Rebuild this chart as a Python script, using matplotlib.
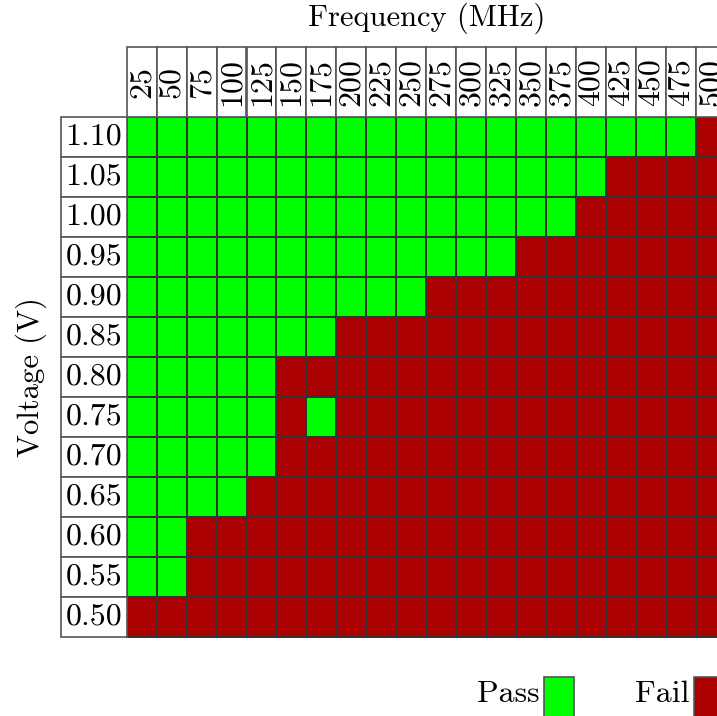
import numpy as np
import matplotlib.pyplot as plt
from matplotlib.colors import ListedColormap
from matplotlib.patches import Rectangle

plt.rcParams['font.family'] = 'cmr10'
plt.rcParams['mathtext.fontset'] = 'cm'

# Shmoo data: frequency sweep (MHz) against supply voltage (V)
freqs = [25, 50, 75, 100, 125, 150, 175, 200, 225, 250,
         275, 300, 325, 350, 375, 400, 425, 450, 475, 500]
volts = ['1.10', '1.05', '1.00', '0.95', '0.90', '0.85', '0.80',
         '0.75', '0.70', '0.65', '0.60', '0.55', '0.50']
# highest passing frequency at each voltage (0 = nothing passes)
max_pass = [475, 400, 375, 325, 250, 175, 125, 175, 125, 100, 50, 50, 0]
# failing points below the max passing frequency
holes = [('0.75', 150)]

status = np.array([[1 if f <= m else 0 for f in freqs] for m in max_pass])
for v, f in holes:
    status[volts.index(v), freqs.index(f)] = 0

PASS = '#00ff00'
FAIL = '#aa0000'
EDGE = '#333333'
BOX = '#555555'

# pixel layout -> data units (one cell = 1 x 1)
W, H = 717, 716
x0, y0 = 126.7, 116.7
cw, ch = 29.95, 40.0

fig = plt.figure(figsize=(W / 100, H / 100), dpi=100)
ax = fig.add_axes([0, 0, 1, 1])
ax.set_xlim(-x0 / cw, (W - x0) / cw)
ax.set_ylim((H - y0) / ch, -y0 / ch)
ax.axis('off')

ax.pcolormesh(np.arange(len(freqs) + 1), np.arange(len(volts) + 1), status,
              cmap=ListedColormap([FAIL, PASS]), vmin=0, vmax=1,
              edgecolors=EDGE, linewidth=1.1)

# column headers
head_h = (y0 - 46.7) / ch
for j, f in enumerate(freqs):
    ax.add_patch(Rectangle((j, -head_h), 1, head_h, facecolor='white',
                           edgecolor=BOX, lw=1.2))
    ax.text(j + 0.5, -head_h / 2, str(f), rotation=90, ha='center',
            va='center', fontsize=23)

# row headers
lab_w = (x0 - 61.3) / cw
for i, v in enumerate(volts):
    ax.add_patch(Rectangle((-lab_w, i), lab_w, 1, facecolor='white',
                           edgecolor=BOX, lw=1.2))
    ax.text(-lab_w / 2, i + 0.5, v, ha='center', va='center', fontsize=23)

ax.text(len(freqs) / 2, -2.45, 'Frequency (MHz)', ha='center', va='center',
        fontsize=22)
ax.text(-3.17, len(volts) / 2, 'Voltage (V)', rotation=90, ha='center',
        va='center', fontsize=22)

# legend
for col, lab, c in [(14, 'Pass', PASS), (19, 'Fail', FAIL)]:
    ax.add_patch(Rectangle((col - 0.06, 14), 1, 1, facecolor=c,
                           edgecolor=BOX, lw=1.2))
    ax.text(col - 0.2, 14.45, lab, ha='right', va='center', fontsize=23)

fig.savefig('out.png', dpi=100)
